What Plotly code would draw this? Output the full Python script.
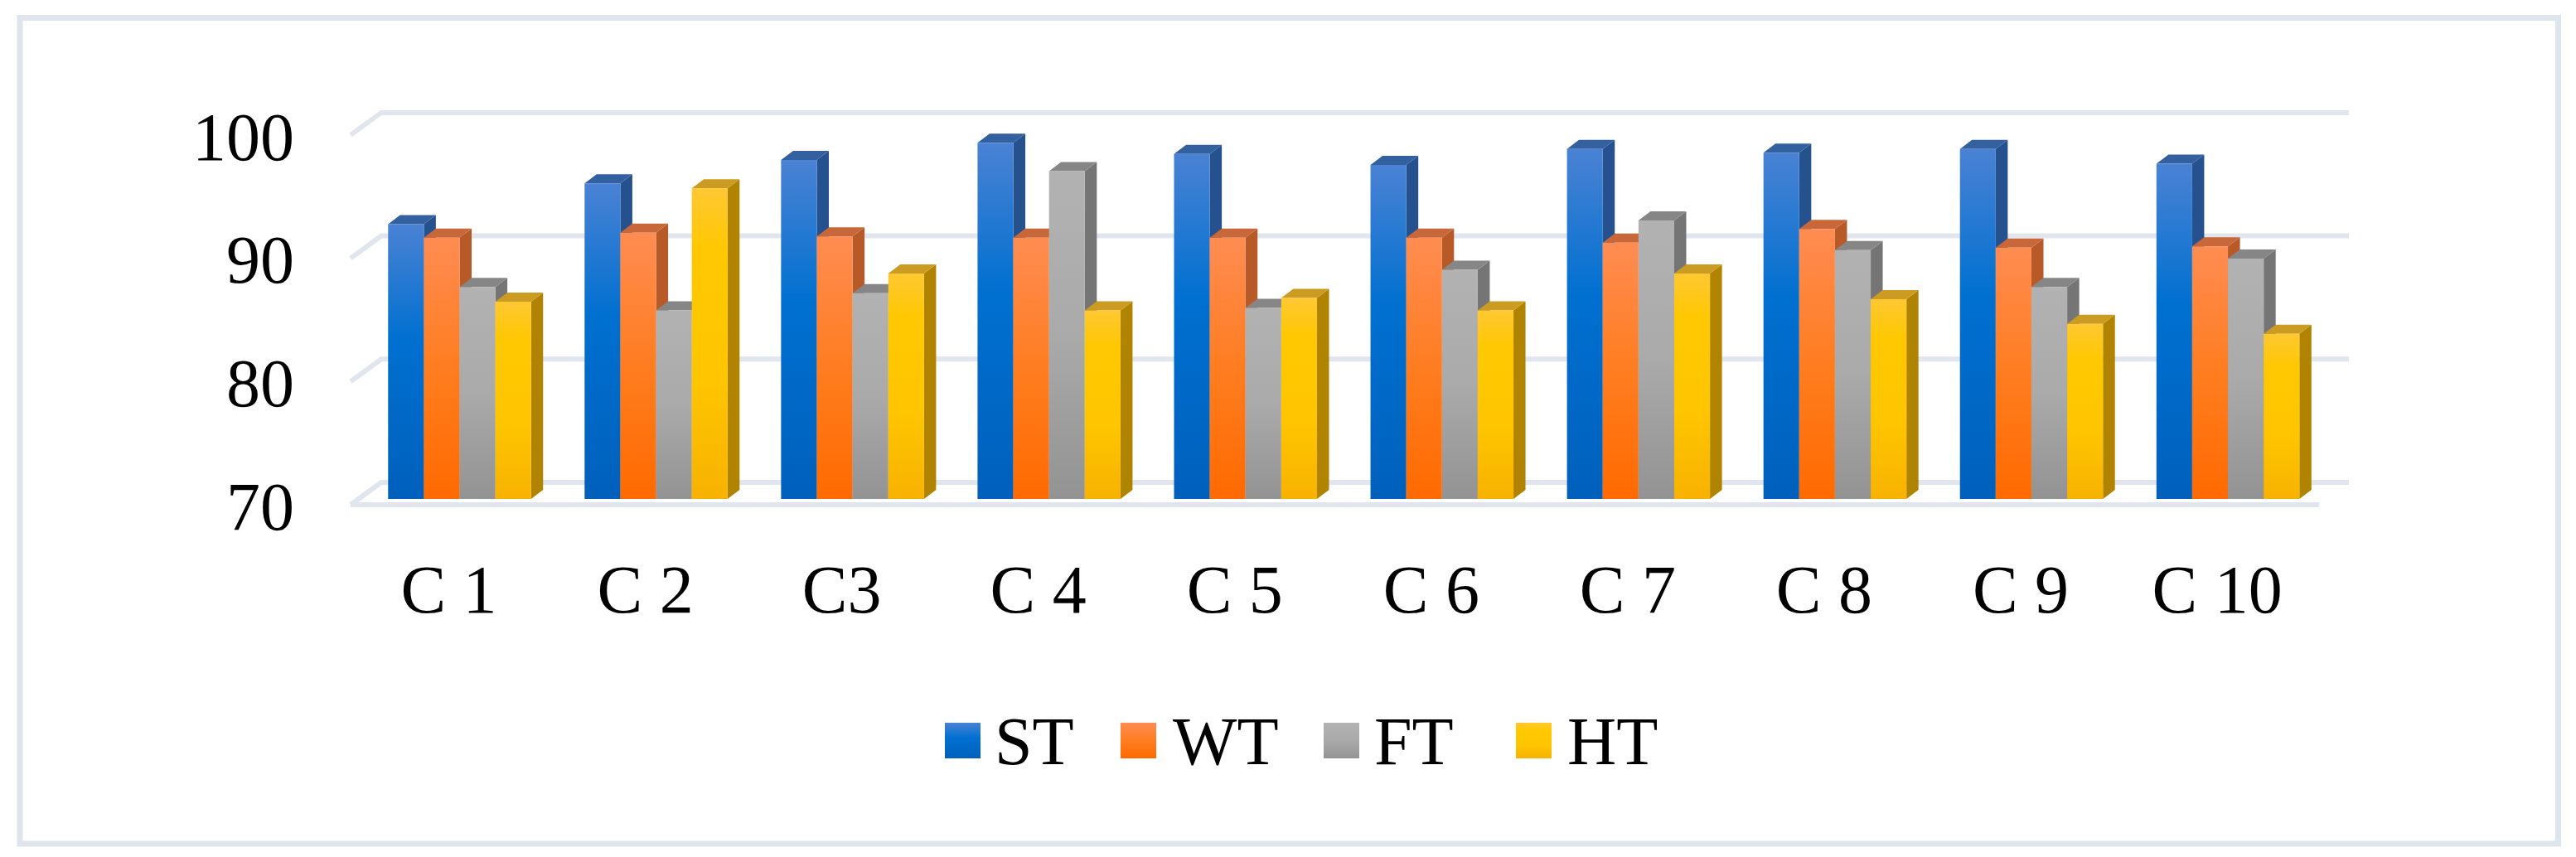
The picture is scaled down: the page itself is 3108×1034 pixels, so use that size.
import json
import plotly.graph_objects as go

categories = ["C 1", "C 2", "C3", "C 4", "C 5", "C 6", "C 7", "C 8", "C 9", "C 10"]
ST = [92.3, 95.6, 97.5, 98.9, 98.0, 97.1, 98.4, 98.1, 98.4, 97.2]
WT = [91.2, 91.6, 91.3, 91.2, 91.2, 91.2, 90.8, 91.9, 90.4, 90.5]
FT = [87.2, 85.3, 86.7, 96.6, 85.5, 88.6, 92.6, 90.2, 87.2, 89.5]
HT = [86.0, 95.2, 88.3, 85.3, 86.3, 85.3, 88.3, 86.2, 84.2, 83.4]
series_names = ["ST", "WT", "FT", "HT"]
y_ticks = [70, 80, 90, 100]

W, H = 3108, 1034
L, R, T, B = 411, 2840, 100, 615       # plot rectangle in pixels
PITCH, X0 = 237.06, 554.5              # pixels per category, centre of first group
UNIT, Y70 = 14.87, 602                 # pixels per value unit, pixel of value 70
GROUP = 172.5 / PITCH
BAR = GROUP / 4

px_x = lambda p: (p - X0) / PITCH
px_y = lambda p: 70 + (Y70 - p) / UNIT
pap_x = lambda p: (p - L) / (R - L)
pap_y = lambda p: (B - p) / (B - T)

DX, DY = 14.5 / PITCH, 11 / UNIT       # depth of a bar
colors = {
    "ST": dict(stops=[(0, "#4a82d4"), (0.42, "#0070d0"), (1, "#0060bc")], side="#25528f", top="#33609f"),
    "WT": dict(stops=[(0, "#ff8c52"), (0.5, "#ff7d20"), (1, "#ff6a00")], side="#b85a28", top="#c8683a"),
    "FT": dict(stops=[(0, "#b2b2b2"), (0.5, "#aaaaaa"), (1, "#939393")], side="#757575", top="#868686"),
    "HT": dict(stops=[(0, "#ffc832"), (0.2, "#ffc800"), (0.6, "#ffc600"), (1, "#f8b200")], side="#b08400", top="#cb9b22"),
}
values = dict(zip(series_names, [ST, WT, FT, HT]))
GRID = "#e1e5ed"

shapes = []
# frame
shapes.append(dict(type="rect", xref="paper", yref="paper", layer="below",
                   x0=pap_x(24), x1=pap_x(3086.5), y0=pap_y(1018), y1=pap_y(21.5),
                   line=dict(color="#dfe5ec", width=7), fillcolor="white"))
# walls and floor
back_off = 20 / UNIT
front_off = 7 / UNIT
xf_l, xb_l, xf_r, xb_r = px_x(423), px_x(460), px_x(2798), px_x(2834)
for v in y_ticks:
    yb = v + back_off
    yf = v - front_off
    shapes.append(dict(type="path", xref="x", yref="y", layer="below",
                       path=f"M{xf_l},{yf} L{xb_l},{yb} L{xb_r},{yb}",
                       line=dict(color=GRID, width=6), fillcolor="rgba(0,0,0,0)"))
shapes.append(dict(type="path", xref="x", yref="y", layer="below",
                   path=f"M{xf_l},{70 - front_off} L{xf_r},{70 - front_off}",
                   line=dict(color=GRID, width=6), fillcolor="rgba(0,0,0,0)"))
# depth faces, computed from the values
for i in range(len(categories)):
    for k, name in enumerate(series_names):
        v = values[name][i]
        x1 = i + (k - 1) * BAR
        x0 = x1 - BAR
        c = colors[name]
        shapes.append(dict(type="path", xref="x", yref="y", layer="below",
                           path=f"M{x1},{v} L{x1+DX},{v+DY} L{x1+DX},{70+DY} L{x1},70 Z",
                           fillcolor=c["side"], line=dict(width=0)))
        shapes.append(dict(type="path", xref="x", yref="y", layer="below",
                           path=f"M{x0},{v} L{x0+DX},{v+DY} L{x1+DX},{v+DY} L{x1},{v} Z",
                           fillcolor=c["top"], line=dict(width=0)))

# legend
legend_swatch_left = [1140, 1352, 1597, 1829]
legend_text_left = [1199, 1414, 1657, 1890]
annotations = []
for name, sx, tx in zip(series_names, legend_swatch_left, legend_text_left):
    shapes.append(dict(type="rect", xref="paper", yref="paper", layer="above",
                       x0=pap_x(sx), x1=pap_x(sx + 43), y0=pap_y(915), y1=pap_y(872),
                       fillcolor=colors[name]["stops"][0][1], line=dict(width=0)))
    annotations.append(dict(text=name, xref="paper", yref="paper", x=pap_x(tx), y=pap_y(894),
                            xanchor="left", yanchor="middle", showarrow=False, borderpad=0,
                            font=dict(family="Liberation Serif", size=82, color="black")))

fig = go.Figure()
for name in series_names:
    fig.add_bar(x=list(range(len(categories))), y=[v - 70 for v in values[name]], base=70, name=name,
                marker=dict(color=colors[name]["stops"][1][1], line=dict(width=0)), showlegend=False)

font = dict(family="Liberation Serif", size=82, color="black")
fig.update_layout(
    width=W, height=H, autosize=False, barmode="group", bargap=1 - GROUP, bargroupgap=0,
    margin=dict(l=L, r=W - R, t=T, b=H - B, pad=0),
    paper_bgcolor="white", plot_bgcolor="rgba(0,0,0,0)", showlegend=False,
    shapes=shapes, annotations=annotations,
)
fig.update_xaxes(range=[px_x(L), px_x(R)], tickmode="array", tickvals=list(range(len(categories))),
                 ticktext=categories, showgrid=False, zeroline=False, showline=False, ticks="",
                 tickfont=font, ticklabelstandoff=41, ticklabelshift=-13)
fig.update_yaxes(range=[px_y(B), px_y(T)], tickmode="array", tickvals=y_ticks,
                 showgrid=False, zeroline=False, showline=False, ticks="",
                 tickfont=font, ticklabelstandoff=55, ticklabelshift=8)

stops_js = json.dumps({n: colors[n]["stops"] for n in series_names})
names_js = json.dumps(series_names)
post = """
document.body.style.margin='0';document.body.style.overflow='hidden';
var gd=document.getElementById('{plot_id}');
var STOPS=%s, NAMES=%s;
function paint(){
  var svg=gd.querySelector('svg.main-svg'); var NS='http://www.w3.org/2000/svg';
  var defs=svg.querySelector('defs');
  NAMES.forEach(function(n){
    if(document.getElementById('grad'+n)) return;
    var g=document.createElementNS(NS,'linearGradient');
    g.setAttribute('id','grad'+n);g.setAttribute('x1','0');g.setAttribute('y1','0');g.setAttribute('x2','0');g.setAttribute('y2','1');
    STOPS[n].forEach(function(s){var t=document.createElementNS(NS,'stop');t.setAttribute('offset',s[0]);t.setAttribute('stop-color',s[1]);g.appendChild(t);});
    defs.appendChild(g);
  });
  gd.querySelectorAll('.barlayer .trace').forEach(function(tr,i){
    tr.querySelectorAll('path').forEach(function(p){p.style.fill='url(#grad'+NAMES[i]+')';p.style.fillOpacity=1;});
  });
  gd.querySelectorAll('.layer-above .shapelayer path').forEach(function(p,i){
    if(NAMES[i]) p.style.fill='url(#grad'+NAMES[i]+')';
  });
}
paint(); gd.on('plotly_afterplot',paint);
""" % (stops_js, names_js)

fig.write_html("out.html", post_script=post, config=dict(displayModeBar=False))
